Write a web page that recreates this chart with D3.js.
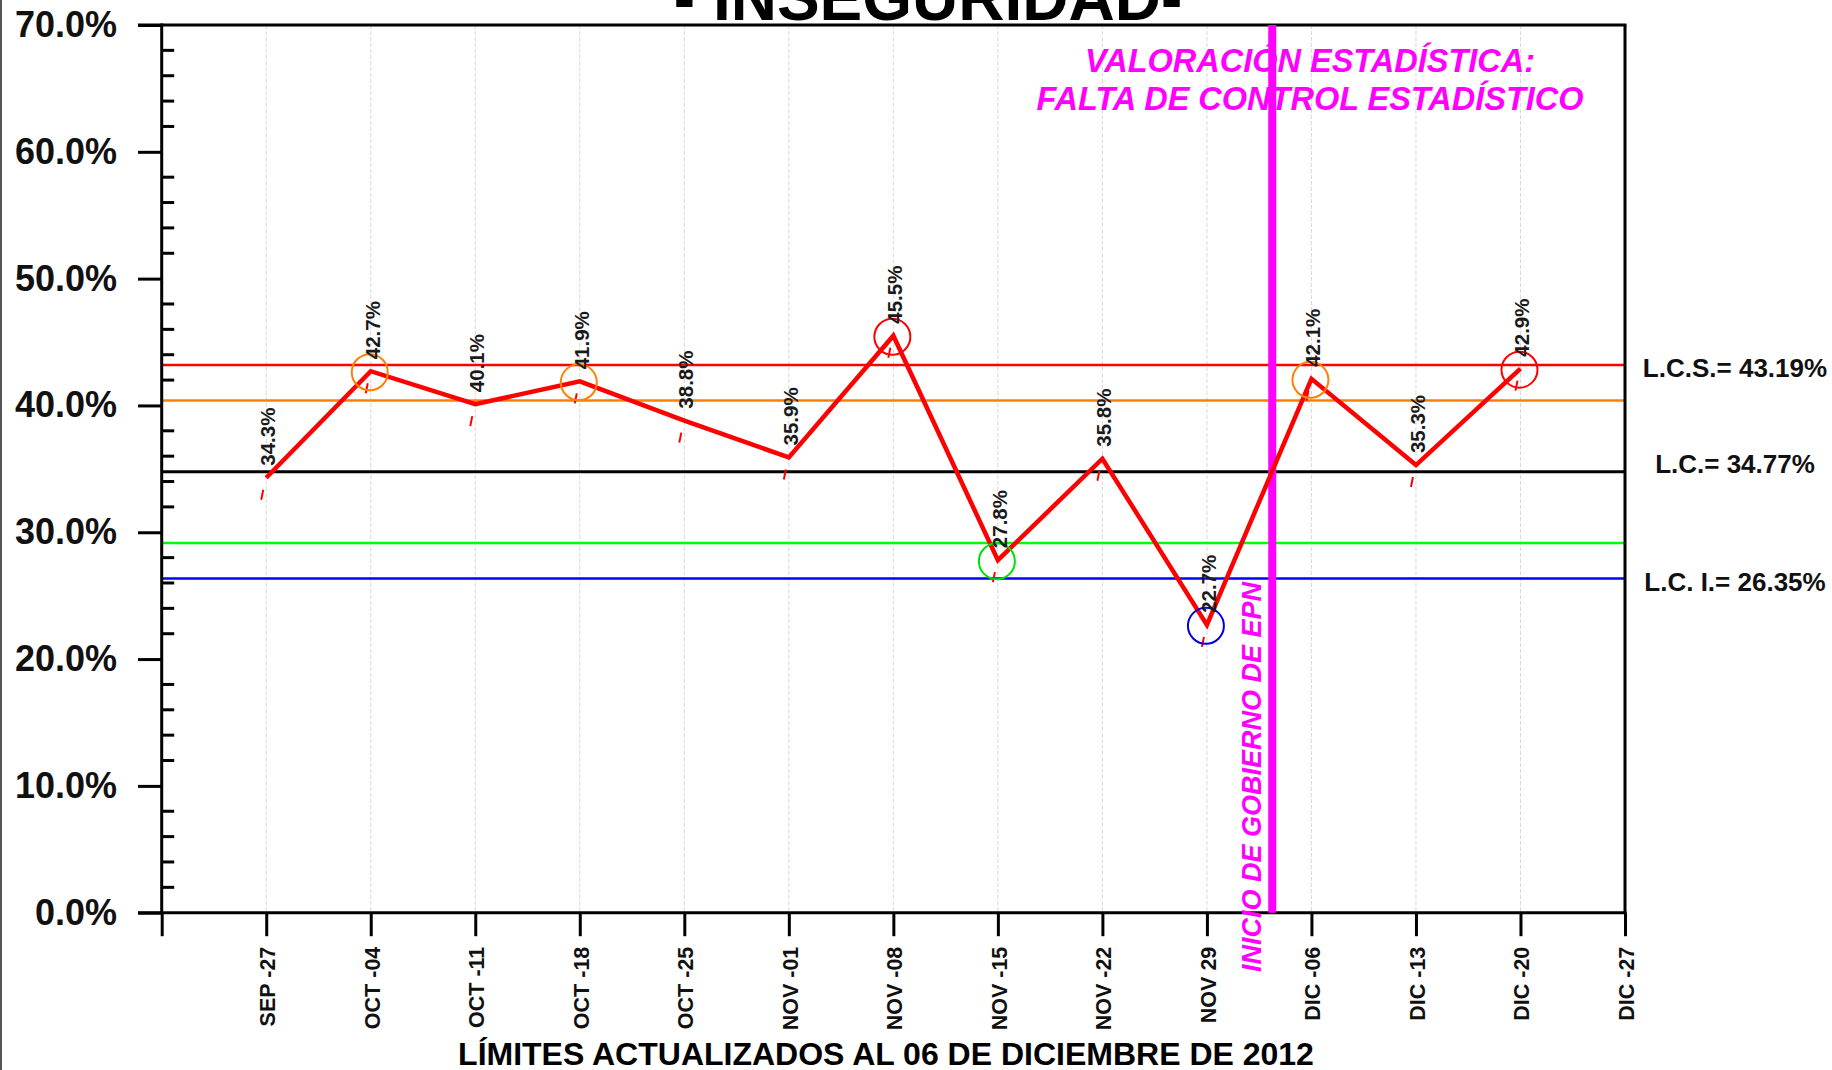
<!DOCTYPE html>
<html>
<head>
<meta charset="utf-8">
<script src="https://cdn.jsdelivr.net/npm/d3@7"></script>
<style>
    body { margin: 0; background: #fff; }
    svg { display: block; font-family: "Liberation Sans", Arial, sans-serif; }
</style>
</head>
<body>
<div id="chart"></div>
<script>
// weekly labels on the x axis (index 1..14)
const weeks = ['SEP -27', 'OCT -04', 'OCT -11', 'OCT -18', 'OCT -25', 'NOV -01', 'NOV -08',
    'NOV -15', 'NOV -22', 'NOV 29', 'DIC -06', 'DIC -13', 'DIC -20', 'DIC -27'];
// % inseguridad per week
const values = [34.3, 42.7, 40.1, 41.9, 38.8, 35.9, 45.5, 27.8, 35.8, 22.7, 42.1, 35.3, 42.9];
// circle marks around points ('' = none)
const flags = ['', 'warnUp', '', 'warnUp', '', '', 'outUp', 'warnDown', '', 'outDown', 'warnUp', '', 'outUp'];
const yTicks = [0, 10, 20, 30, 40, 50, 60, 70];
// control limits: LCS, +2s, LC, -2s, LCI
const limitKeys = ['lcs', 'up2', 'lc', 'down2', 'lci'];
const limitValues = [43.19, 40.38, 34.77, 29.16, 26.35];
const limitLabels = ['L.C.S.= 43.19%', '', 'L.C.= 34.77%', '', 'L.C. I.= 26.35%'];
const epnWeek = 10.625;

const colors = {
    lcs: '#ff0000', up2: '#ff8000', lc: '#000000', down2: '#00ff00', lci: '#0000ff',
    warnUp: '#ff8000', outUp: '#ff0000', warnDown: '#00e000', outDown: '#0000e0'
};

const W = 1832, H = 1070;
const pLeft = 161.7, pRight = 1625, pTop = 25, pBottom = 912.7;

const svg = d3.select('#chart').append('svg')
    .attr('width', W)
    .attr('height', H);

const x = d3.scaleLinear().domain([0, 14]).range([pLeft, pRight]);
const y = d3.scaleLinear().domain([0, 70]).range([pBottom, pTop]);

// image edge line
svg.append('line')
    .attr('x1', 1).attr('x2', 1).attr('y1', 0).attr('y2', H)
    .attr('stroke', '#555').attr('stroke-width', 2);

// vertical grid
svg.append('g').selectAll('line')
    .data(d3.range(1, 14))
    .enter().append('line')
    .attr('x1', d => x(d)).attr('x2', d => x(d))
    .attr('y1', pTop).attr('y2', pBottom)
    .attr('stroke', '#d8d8d8')
    .attr('stroke-dasharray', '4,2')
    .attr('stroke-width', 1);

// control limit lines
svg.append('g').selectAll('line')
    .data(limitValues)
    .enter().append('line')
    .attr('x1', pLeft).attr('x2', pRight)
    .attr('y1', d => y(d)).attr('y2', d => y(d))
    .attr('stroke', (d, i) => colors[limitKeys[i]])
    .attr('stroke-width', (d, i) => limitKeys[i] === 'lc' ? 3 : 2.5);

// limit labels
svg.append('g').selectAll('text')
    .data(limitValues.map((v, i) => ({v, t: limitLabels[i], k: limitKeys[i]})).filter(d => d.t))
    .enter().append('text')
    .attr('x', 1735)
    .attr('y', d => y(d.v) + (d.k === 'lc' ? 1 : 12))
    .attr('text-anchor', 'middle')
    .attr('font-size', 26)
    .attr('font-weight', 'bold')
    .attr('fill', '#111')
    .text(d => d.t);

// axes: y axis major ticks (outside) + minor ticks (inside)
const yAxis = d3.axisLeft(y)
    .tickValues(yTicks)
    .tickSize(23.7)
    .tickPadding(21)
    .tickFormat(d => d.toFixed(1) + '%');
const gy = svg.append('g')
    .attr('transform', 'translate(' + pLeft + ',0)')
    .call(yAxis);
gy.select('.domain').remove();
gy.selectAll('.tick line').attr('stroke', '#000').attr('stroke-width', 3);
gy.selectAll('.tick text')
    .attr('font-size', 36)
    .attr('font-weight', 'bold')
    .attr('fill', '#111')
    .attr('font-family', '"Liberation Sans", Arial, sans-serif');

const minor = d3.range(0, 70, 2).filter(v => v % 10 !== 0);
svg.append('g').selectAll('line')
    .data(minor)
    .enter().append('line')
    .attr('x1', pLeft).attr('x2', pLeft + 12.5)
    .attr('y1', d => y(d)).attr('y2', d => y(d))
    .attr('stroke', '#000').attr('stroke-width', 3);

// x axis ticks + labels
const xAxis = d3.axisBottom(x)
    .tickValues(d3.range(0, 15))
    .tickSize(23.5)
    .tickFormat(d => d === 0 ? '' : weeks[d - 1]);
const gx = svg.append('g')
    .attr('transform', 'translate(0,' + pBottom + ')')
    .call(xAxis);
gx.select('.domain').remove();
gx.selectAll('.tick line').attr('stroke', '#000').attr('stroke-width', 3);
gx.selectAll('.tick text')
    .attr('font-size', 21.5)
    .attr('font-weight', 'bold')
    .attr('fill', '#111')
    .attr('font-family', '"Liberation Sans", Arial, sans-serif')
    .attr('text-anchor', 'end')
    .attr('dy', null)
    .attr('y', null)
    .attr('transform', 'translate(8.5,34) rotate(-90)');

// frame lines
const frame = svg.append('g').attr('stroke', '#000').attr('stroke-width', 3).attr('fill', 'none');
frame.append('line').attr('x1', pLeft).attr('x2', pLeft).attr('y1', pTop - 1.5).attr('y2', pBottom + 1.5);
frame.append('line').attr('x1', 138).attr('x2', pRight + 1.5).attr('y1', pTop).attr('y2', pTop);
frame.append('line').attr('x1', 138).attr('x2', pRight + 1.5).attr('y1', pBottom).attr('y2', pBottom);
frame.append('line').attr('x1', pRight).attr('x2', pRight).attr('y1', pTop).attr('y2', pBottom);

// EPN marker
svg.append('line')
    .attr('x1', x(epnWeek)).attr('x2', x(epnWeek))
    .attr('y1', pTop).attr('y2', pBottom)
    .attr('stroke', '#ff00ff').attr('stroke-width', 8);

svg.append('text')
    .attr('transform', 'translate(' + (x(epnWeek) - 11) + ',972) rotate(-90)')
    .attr('font-size', 27)
    .attr('font-weight', 'bold')
    .attr('font-style', 'italic')
    .attr('fill', '#ff00ff')
    .text('INICIO DE GOBIERNO DE EPN');

// series
const pts = values.map((v, i) => ({i: i + 1, v, f: flags[i]}));
const line = d3.line().x(d => x(d.i)).y(d => y(d.v));

svg.append('g').selectAll('line')
    .data(pts)
    .enter().append('line')
    .attr('x1', d => x(d.i) - 3).attr('y1', d => y(d.v) + 12)
    .attr('x2', d => x(d.i) - 5).attr('y2', d => y(d.v) + 22)
    .attr('stroke', '#ff0000').attr('stroke-width', 2);

svg.append('path')
    .datum(pts)
    .attr('fill', 'none')
    .attr('stroke', '#ff0000')
    .attr('stroke-width', 4.5)
    .attr('stroke-linejoin', 'miter')
    .attr('d', line);

svg.append('g').selectAll('circle')
    .data(pts.filter(d => d.f))
    .enter().append('circle')
    .attr('cx', d => x(d.i) - 1)
    .attr('cy', d => y(d.v) + 1)
    .attr('r', 18)
    .attr('fill', 'none')
    .attr('stroke', d => colors[d.f])
    .attr('stroke-width', 2);

svg.append('g').selectAll('text')
    .data(pts)
    .enter().append('text')
    .attr('transform', d => 'translate(' + (x(d.i) + 9) + ',' + (y(d.v) - 12) + ') rotate(-90)')
    .attr('font-size', 20.5)
    .attr('font-weight', 'bold')
    .attr('fill', '#1a1a1a')
    .text(d => d.v.toFixed(1) + '%');

// titles
svg.append('text')
    .attr('x', 928).attr('y', 20)
    .attr('text-anchor', 'middle')
    .attr('font-size', 64)
    .attr('font-weight', 'bold')
    .attr('fill', '#000')
    .text('- INSEGURIDAD-');

svg.append('text')
    .attr('x', 886).attr('y', 1065)
    .attr('text-anchor', 'middle')
    .attr('font-size', 32)
    .attr('font-weight', 'bold')
    .attr('fill', '#000')
    .text('LÍMITES ACTUALIZADOS AL 06 DE DICIEMBRE DE 2012');

const note = svg.append('g')
    .attr('font-size', 32.5)
    .attr('font-weight', 'bold')
    .attr('font-style', 'italic')
    .attr('fill', '#ff00ff')
    .attr('text-anchor', 'middle');
note.append('text').attr('x', 1310).attr('y', 72).text('VALORACIÓN ESTADÍSTICA:');
note.append('text').attr('x', 1310).attr('y', 110).text('FALTA DE CONTROL ESTADÍSTICO');
</script>
</body>
</html>
